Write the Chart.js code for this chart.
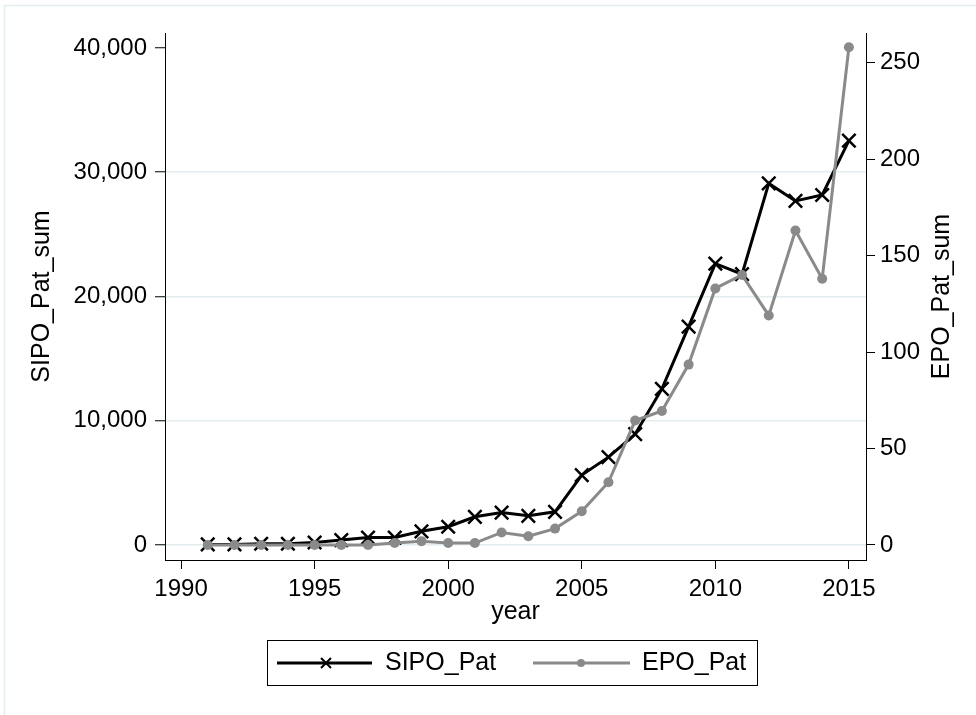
<!DOCTYPE html>
<html>
<head>
<meta charset="utf-8">
<script src="https://cdn.jsdelivr.net/npm/chart.js@4.4.0/dist/chart.umd.min.js"></script>
<style>
  html, body { margin: 0; padding: 0; background: #fff; }
  #wrap { width: 976px; height: 715px; position: relative; }
</style>
</head>
<body>
<div id="wrap"><canvas id="chart"></canvas></div>
<script>
// Data
const years = [1991, 1992, 1993, 1994, 1995, 1996, 1997, 1998, 1999, 2000, 2001, 2002, 2003,
  2004, 2005, 2006, 2007, 2008, 2009, 2010, 2011, 2012, 2013, 2014, 2015];
const sipoPat = [50, 50, 100, 100, 200, 400, 600, 600, 1100, 1470, 2270, 2610, 2350,
  2670, 5630, 7070, 8930, 12560, 17570, 22650, 21800, 29100, 27690, 28170, 32540];
const epoPat = [0, 0, 0, 0, 0, 0, 0, 1, 2, 1, 1, 6.5, 4.5,
  8.5, 17.5, 32.5, 64.5, 69.5, 93.5, 133, 140, 119, 163, 138, 258];
const yearTicks = [1990, 1995, 2000, 2005, 2010, 2015];
const sipoTicks = [0, 10000, 20000, 30000, 40000];
const epoTicks = [0, 50, 100, 150, 200, 250];

const FONT = '"Liberation Sans", Arial, sans-serif';
const GRID = '#e3ecef';
const GRAY = '#8a8a8a';

Chart.defaults.font.family = FONT;
Chart.defaults.color = '#000';

const tickFont = { size: 24 };
const titleFont = { size: 25 };

// white background + light graph-region frame
const framePlugin = {
  id: 'frame',
  beforeDraw(chart) {
    const ctx = chart.ctx;
    ctx.save();
    ctx.fillStyle = '#fff';
    ctx.fillRect(0, 0, chart.width, chart.height);
    ctx.strokeStyle = '#e4edf1';
    ctx.lineWidth = 1.5;
    ctx.strokeRect(4.5, 5.5, 1200, 1200);
    ctx.restore();
  }
};

// right axis title (reads bottom-up like the left one) and boxed legend
const extrasPlugin = {
  id: 'extras',
  afterDraw(chart) {
    const ctx = chart.ctx;
    const area = chart.chartArea;
    ctx.save();
    ctx.fillStyle = '#000';
    ctx.font = '25px ' + FONT;
    ctx.textAlign = 'center';
    ctx.textBaseline = 'middle';
    ctx.translate(942, (area.top + area.bottom) / 2);
    ctx.rotate(-Math.PI / 2);
    ctx.fillText('EPO_Pat_sum', 0, 0);
    ctx.restore();

    // legend
    ctx.save();
    ctx.strokeStyle = '#000';
    ctx.lineWidth = 1;
    ctx.strokeRect(267.5, 640.5, 490, 45);
    const ly = 663;
    ctx.lineWidth = 3;
    ctx.beginPath();
    ctx.moveTo(277, ly); ctx.lineTo(372, ly);
    ctx.stroke();
    ctx.lineWidth = 2;
    ctx.beginPath();
    ctx.moveTo(321, ly - 5); ctx.lineTo(331, ly + 5);
    ctx.moveTo(321, ly + 5); ctx.lineTo(331, ly - 5);
    ctx.stroke();
    ctx.strokeStyle = GRAY;
    ctx.lineWidth = 3;
    ctx.beginPath();
    ctx.moveTo(533, ly); ctx.lineTo(630, ly);
    ctx.stroke();
    ctx.fillStyle = GRAY;
    ctx.beginPath();
    ctx.arc(581, ly, 4, 0, Math.PI * 2);
    ctx.fill();
    ctx.fillStyle = '#000';
    ctx.font = '25px ' + FONT;
    ctx.textAlign = 'left';
    ctx.textBaseline = 'middle';
    ctx.fillText('SIPO_Pat', 385, ly);
    ctx.fillText('EPO_Pat', 642, ly);
    ctx.restore();
  }
};

new Chart(document.getElementById('chart'), {
  type: 'line',
  data: {
    datasets: [
      {
        label: 'SIPO_Pat',
        data: years.map((y, i) => ({ x: y, y: sipoPat[i] })),
        yAxisID: 'y',
        borderColor: '#000',
        backgroundColor: '#000',
        borderWidth: 3,
        pointStyle: 'crossRot',
        pointRadius: 9.5,
        pointBorderWidth: 2.5,
        tension: 0,
        order: 1
      },
      {
        label: 'EPO_Pat',
        data: years.map((y, i) => ({ x: y, y: epoPat[i] })),
        yAxisID: 'y1',
        borderColor: GRAY,
        backgroundColor: GRAY,
        borderWidth: 3,
        pointStyle: 'circle',
        pointRadius: 5,
        pointBorderWidth: 0,
        tension: 0,
        order: 0
      }
    ]
  },
  options: {
    responsive: true,
    maintainAspectRatio: false,
    animation: false,
    devicePixelRatio: 1,
    layout: { padding: { top: 33, left: 0, right: 0, bottom: 88 } },
    plugins: { legend: { display: false }, tooltip: { enabled: false } },
    scales: {
      x: {
        type: 'linear',
        position: 'bottom',
        min: 1989.4,
        max: 2015.64,
        afterBuildTicks: s => { s.ticks = yearTicks.map(v => ({ value: v })); },
        afterFit: s => { s.height = 67; },
        ticks: { font: tickFont, color: '#000', padding: 6, maxRotation: 0, callback: v => String(v) },
        grid: { drawOnChartArea: false, tickLength: 9, tickColor: '#000', tickWidth: 1 },
        border: { color: '#000', width: 1 },
        title: { display: true, text: 'year', font: titleFont, color: '#000', padding: { top: 0, bottom: 0 } }
      },
      y: {
        type: 'linear',
        position: 'left',
        min: -1207,
        max: 41207,
        afterBuildTicks: s => { s.ticks = sipoTicks.map(v => ({ value: v })); },
        afterFit: s => { s.width = 165; },
        ticks: { font: tickFont, color: '#000', padding: 8, callback: v => v.toLocaleString('en-US') },
        grid: {
          color: c => (c.tick && c.tick.value === 40000) ? 'rgba(0,0,0,0)' : GRID,
          lineWidth: 1.5,
          tickLength: 10,
          tickColor: '#000',
          tickWidth: 1
        },
        border: { color: '#000', width: 1 },
        title: { display: true, text: 'SIPO_Pat_sum', font: titleFont, color: '#000', padding: { top: 27 } }
      },
      y1: {
        type: 'linear',
        position: 'right',
        min: -7.78,
        max: 265.4,
        afterBuildTicks: s => { s.ticks = epoTicks.map(v => ({ value: v })); },
        afterFit: s => { s.width = 110; },
        ticks: { font: tickFont, color: '#000', padding: 5, callback: v => String(v) },
        grid: { drawOnChartArea: false, tickLength: 9, tickColor: '#000', tickWidth: 1 },
        border: { color: '#000', width: 1 }
      }
    }
  },
  plugins: [framePlugin, extrasPlugin]
});
</script>
</body>
</html>
